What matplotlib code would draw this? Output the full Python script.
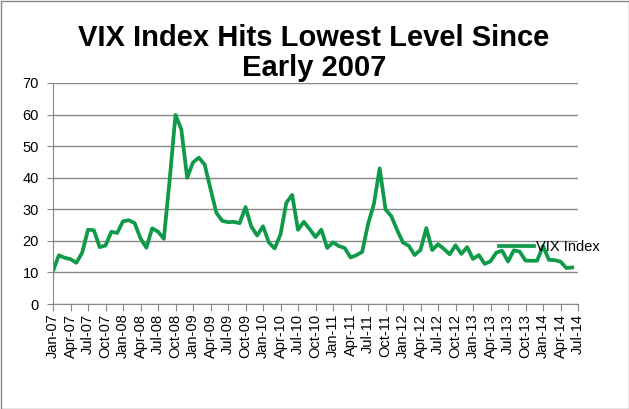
import matplotlib
matplotlib.use("Agg")
import matplotlib.pyplot as plt
import numpy as np

# monthly VIX close, Jan-07 .. Jun-14
vix = [
    10.42, 15.42, 14.64, 14.22, 13.05, 16.23, 23.52, 23.38, 18.00, 18.53, 22.87, 22.50,
    26.20, 26.54, 25.61, 20.79, 17.83, 23.95, 22.94, 20.65, 39.39, 59.89, 55.28, 40.00,
    44.84, 46.35, 44.14, 36.50, 28.92, 26.35, 25.92, 26.01, 25.61, 30.69, 24.51, 21.68,
    24.62, 19.50, 17.59, 22.05, 32.07, 34.54, 23.50, 26.05, 23.70, 21.20, 23.54, 17.75,
    19.53, 18.35, 17.74, 14.75, 15.45, 16.52, 25.25, 31.62, 42.96, 29.96, 27.80, 23.40,
    19.44, 18.43, 15.50, 17.15, 24.06, 17.08, 18.93, 17.47, 15.73, 18.60, 15.87, 18.02,
    14.28, 15.51, 12.70, 13.52, 16.30, 16.86, 13.45, 17.01, 16.60, 13.75, 13.70, 13.72,
    18.41, 14.00, 13.88, 13.41, 11.40, 11.57,
]
tick_labels = [f"{m}-{y:02d}" for y in range(7, 15) for m in ["Jan", "Apr", "Jul", "Oct"]][:31]
y_ticks = list(range(0, 71, 10))

plt.rcParams['font.family'] = ['Liberation Sans', 'DejaVu Sans']

W, H = 629, 409
fig = plt.figure(figsize=(W / 100, H / 100), dpi=100)
ax = fig.add_axes([53 / W, 1 - 304 / H, (578 - 53) / W, (304 - 83) / H])

x = np.arange(len(vix))
ax.plot(x, vix, color='#0E9A48', lw=2.7, label='VIX Index', solid_joinstyle='round')

ax.set_xlim(0, 90)
ax.set_ylim(0, 70)
ax.set_yticks(y_ticks)
ax.set_xticks(np.arange(0, 91, 3))
ax.set_xticklabels(tick_labels, rotation=90, fontsize=10.5)
ax.tick_params(axis='y', labelsize=10.5, length=4, color='#888888', pad=6)
ax.tick_params(axis='x', length=5, color='#888888', pad=2)
ax.grid(axis='y', color='#888888', lw=1)
ax.set_axisbelow(True)
for s in ['top', 'right']:
    ax.spines[s].set_visible(False)
for s in ['left', 'bottom']:
    ax.spines[s].set_color('#888888')

fig.text(314 / W, 1 - 53 / H, 'VIX Index Hits Lowest Level Since\nEarly 2007',
         ha='center', va='center', fontsize=21, fontweight='bold', linespacing=1.05)

fig.legend(loc='center left', bbox_to_anchor=(499 / W, 1 - 247 / H), frameon=False,
           fontsize=10.5, handlelength=2.4, handletextpad=0.15, borderpad=0, borderaxespad=0)

fig.patches.append(plt.Rectangle((0.5 / W, 0.5 / H), 1 - 1 / W, 1 - 1 / H,
                                 transform=fig.transFigure, fill=False, ec='#888888', lw=1))

fig.savefig('out.png', dpi=100)
